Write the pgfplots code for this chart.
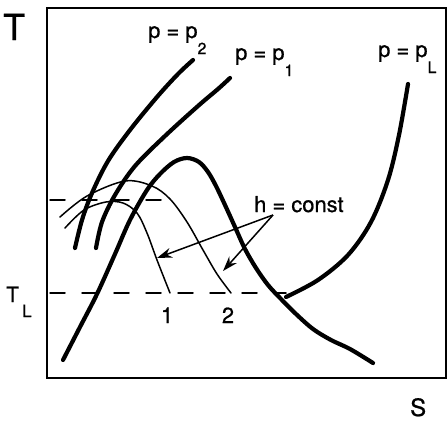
\documentclass[border=0pt]{standalone}
\usepackage{fontspec}
\setmainfont{TeX Gyre Heros}[FakeBold=0.8]
\usepackage{pgfplots}
\pgfplotsset{compat=1.18}
\usetikzlibrary{arrows.meta}

% lowered index set in a smaller size
\newcommand{\sub}[1]{\raisebox{-16bp}{\fontsize{16}{16}\selectfont #1}}

\begin{document}
\begin{tikzpicture}[x=1bp,y=1bp,
  thick curve/.style={line width=4.2bp, black},
  thin curve/.style={line width=1.5bp, black},
  lab/.style={font=\fontsize{22}{22}\selectfont, inner sep=0pt},
]
\begin{axis}[
  at={(0,0)}, anchor=south west,
  scale only axis, width=399bp, height=370bp,
  xmin=47, xmax=446, ymin=8, ymax=378, y dir=reverse,
  axis line style={line width=2.8bp},
  ticks=none, clip=false,
  every axis plot/.append style={smooth, tension=0.55, line cap=round},
]
% two-phase dome
\addplot[thick curve] coordinates {
  (63,360) (80,327) (97,294) (115,254) (130,220) (147,190) (160,174)
  (174,162) (187,158) (199,162) (208,172) (216,186) (225,205) (235,227)
  (245,249) (256,268) (268,285) (281,299) (296,314) (313,329) (331,340)
  (350,349) (373,363)};
% isobars
\addplot[thick curve] coordinates {
  (75,248) (82,220) (92,193) (108,161) (130,130) (157,97) (178,74) (193,60)};
\addplot[thick curve] coordinates {
  (96,248) (102,222) (115,195) (135,166) (165,136) (198,106) (218,89) (230,78)};
\addplot[thick curve] coordinates {
  (286,297) (318,280) (348,255) (371,222) (388,180) (399,135) (408,84)};
% lines of constant enthalpy
\addplot[thin curve] coordinates {
  (65,228) (84,210) (106,202) (123,203) (137,213) (147,233) (157,260) (170,293)};
\addplot[thin curve] coordinates {
  (60,217) (87,196) (125,181) (152,186) (170,199) (187,222) (203,250) (217,274) (231,293)};
% temperature levels
\addplot[line width=1.5bp, dash pattern=on 15bp off 17bp, sharp plot]
  coordinates {(50,200) (168,200)};
\addplot[line width=1.5bp, dash pattern=on 15bp off 17bp, sharp plot]
  coordinates {(50,293) (286,293)};
% arrows to the h = const lines
\draw[line width=1.5bp, -{Stealth[length=15bp,width=10bp]}]
  (axis cs:273,215) -- (axis cs:157,258);
\draw[line width=1.5bp, -{Stealth[length=15bp,width=10bp]}]
  (axis cs:273,215) -- (axis cs:223,271);
% labels
\node[anchor=base west, inner sep=0pt, font=\fontsize{36}{36}\selectfont] at (axis cs:3,40) {T};
\node[anchor=base west, inner sep=0pt, font=\fontsize{24}{24}\selectfont] at (axis cs:410,416) {S};
\node[anchor=base west, inner sep=0pt, font=\fontsize{21}{21}\selectfont] at (axis cs:6,302) {T};
\node[anchor=base west, inner sep=0pt, font=\fontsize{17}{17}\selectfont] at (axis cs:22,317) {L};
\node[lab, anchor=base] at (axis cs:167,323) {1};
\node[lab, anchor=base] at (axis cs:228,323) {2};
\node[lab, anchor=base west] at (axis cs:254,212) {h = const};
\node[lab, anchor=base west] at (axis cs:148,38) {p = p\sub{2}};
\node[lab, anchor=base west] at (axis cs:235,60) {p = p\sub{1}};
\node[lab, anchor=base west] at (axis cs:378,57) {p = p\sub{L}};
\end{axis}
\pgfresetboundingbox
\useasboundingbox (-47bp,-44bp) rectangle (400bp,378bp);
\end{tikzpicture}
\end{document}
